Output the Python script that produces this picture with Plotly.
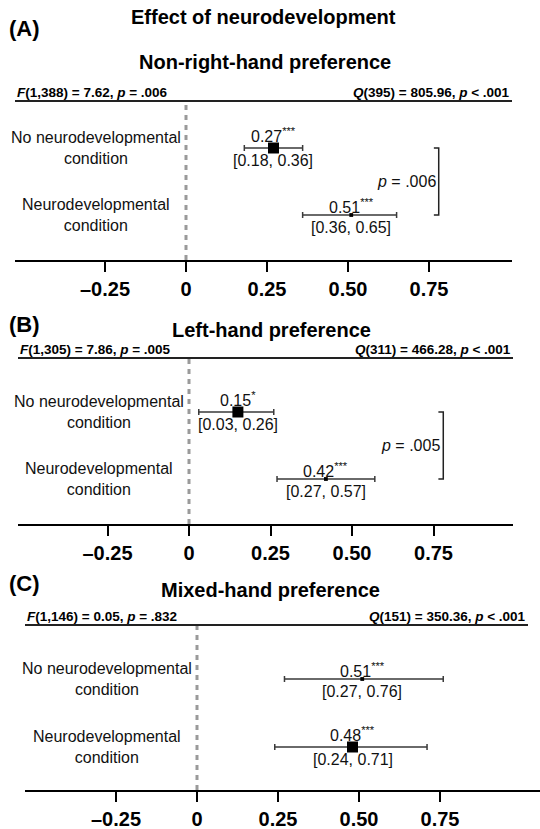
import plotly.graph_objects as go

# ---------------- data ----------------
panel_letters = ["(A)", "(B)", "(C)"]
panel_titles = ["Non-right-hand preference", "Left-hand preference", "Mixed-hand preference"]
main_title = "Effect of neurodevelopment"
categories = ["No neurodevelopmental<br>condition", "Neurodevelopmental<br>condition"]

est_A = [0.27, 0.51]
lo_A = [0.18, 0.36]
hi_A = [0.36, 0.65]
sig_A = ["***", "***"]
weight_A = [1.0, 0.1]

est_B = [0.15, 0.42]
lo_B = [0.03, 0.27]
hi_B = [0.26, 0.57]
sig_B = ["*", "***"]
weight_B = [1.0, 0.1]

est_C = [0.51, 0.48]
lo_C = [0.27, 0.24]
hi_C = [0.76, 0.71]
sig_C = ["***", "***"]
weight_C = [0.1, 1.0]

stats_left = ["<i>F</i>(1,388) = 7.62, <i>p</i> = .006",
              "<i>F</i>(1,305) = 7.86, <i>p</i> = .005",
              "<i>F</i>(1,146) = 0.05, <i>p</i> = .832"]
stats_right = ["<i>Q</i>(395) = 805.96, <i>p</i> &lt; .001",
               "<i>Q</i>(311) = 466.28, <i>p</i> &lt; .001",
               "<i>Q</i>(151) = 350.36, <i>p</i> &lt; .001"]
p_diff = [".006", ".005", None]

tick_vals = [-0.25, 0, 0.25, 0.50, 0.75]
tick_text = ["\u20130.25", "0", "0.25", "0.50", "0.75"]

# ---------------- layout geometry (pixels) ----------------
W, H = 540, 829
FONT = "Liberation Sans, Arial, sans-serif"
geom = [
    dict(xl=15, xr=512, x0=186, s=324, top=101, bot=260, r1=148, r2=215, topr=512),
    dict(xl=18, xr=513, x0=189, s=326, top=358, bot=524, r1=412, r2=479, topr=513),
    dict(xl=25, xr=540, x0=197, s=324, top=625, bot=790, r1=679, r2=747, topr=528),
]
bracket_x = 0.78

panels = [
    (est_A, lo_A, hi_A, sig_A, weight_A),
    (est_B, lo_B, hi_B, sig_B, weight_B),
    (est_C, lo_C, hi_C, sig_C, weight_C),
]

fig = go.Figure()
annotations = []
shapes = []
layout_axes = {}

for i, (est, lo, hi, sig, wt) in enumerate(panels):
    g = geom[i]
    n = "" if i == 0 else str(i + 1)
    xa, ya = "x" + n, "y" + n
    rows = list(range(len(categories)))
    sizes = [3 + 8 * w for w in wt]

    # confidence intervals
    fig.add_trace(go.Scatter(
        x=est, y=rows, xaxis=xa, yaxis=ya, mode="markers",
        marker=dict(size=1, color="rgba(0,0,0,0)"),
        error_x=dict(type="data", symmetric=False,
                     array=[h - e for h, e in zip(hi, est)],
                     arrayminus=[e - l for e, l in zip(est, lo)],
                     color="#3a3a3a", thickness=1.5, width=3),
        showlegend=False, hoverinfo="skip",
    ))
    # point estimates (weighted squares)
    fig.add_trace(go.Scatter(
        x=est, y=rows, xaxis=xa, yaxis=ya, mode="markers",
        marker=dict(symbol="square", size=sizes, color="black", opacity=1,
                    line=dict(width=0)),
        showlegend=False, hoverinfo="skip",
    ))

    d = g["r2"] - g["r1"]
    yrange = [1 + (g["bot"] - g["r2"]) / d, -(g["r1"] - g["top"]) / d]
    xrange = [(g["xl"] - g["x0"]) / g["s"], (g["xr"] - g["x0"]) / g["s"]]

    layout_axes["xaxis" + n] = dict(
        domain=[g["xl"] / W, g["xr"] / W], range=xrange, anchor=ya,
        tickvals=tick_vals, ticktext=["<b>%s</b>" % t for t in tick_text],
        ticks="outside", ticklen=10, tickwidth=2, tickcolor="black",
        showline=True, linecolor="black", linewidth=2,
        showgrid=False, zeroline=False,
        tickfont=dict(size=20, family=FONT, color="black"),
    )
    layout_axes["yaxis" + n] = dict(
        domain=[1 - g["bot"] / H, 1 - g["top"] / H], range=yrange, anchor=xa,
        visible=False,
    )

    # dashed zero line
    shapes.append(dict(type="line", xref=xa, x0=0, x1=0, yref=ya + " domain", y0=0, y1=1,
                       line=dict(color="#9a9a9a", width=3, dash="5px,5px"), layer="below"))
    # top rule
    shapes.append(dict(type="line", xref=xa + " domain", x0=0,
                       x1=(g["topr"] - g["xl"]) / (g["xr"] - g["xl"]),
                       yref=ya + " domain", y0=1, y1=1,
                       line=dict(color="#222222", width=2)))

    # stats texts
    annotations.append(dict(xref=xa + " domain", yref=ya + " domain", x=0, y=1,
                            xanchor="left", yanchor="middle", yshift=9, showarrow=False,
                            text="<b>%s</b>" % stats_left[i],
                            font=dict(size=13.5, family=FONT, color="black")))
    annotations.append(dict(xref=xa + " domain", yref=ya + " domain",
                            x=(g["topr"] - g["xl"]) / (g["xr"] - g["xl"]), y=1,
                            xanchor="right", yanchor="middle", yshift=9, showarrow=False,
                            text="<b>%s</b>" % stats_right[i],
                            font=dict(size=13.5, family=FONT, color="black")))

    # category labels
    for r, cat in zip(rows, categories):
        annotations.append(dict(xref=xa, yref=ya, x=0, y=r, xanchor="center", xshift=-90,
                                yanchor="middle", align="center", showarrow=False, text=cat,
                                font=dict(size=16, family=FONT, color="#111111")))

    # estimate and CI labels
    for r, e, l, h, s, w in zip(rows, est, lo, hi, sig, wt):
        annotations.append(dict(xref=xa, yref=ya, x=e, y=r, xanchor="center", yanchor="middle",
                                yshift=9 + 4 * w, showarrow=False,
                                text="%.2f<sup>%s</sup>" % (e, s),
                                font=dict(size=16, family=FONT, color="#111111")))
        annotations.append(dict(xref=xa, yref=ya, x=e, y=r, xanchor="center", yanchor="middle",
                                yshift=-12, showarrow=False,
                                text="[%.2f, %.2f]" % (l, h),
                                font=dict(size=16, family=FONT, color="#111111")))

    # comparison bracket
    if p_diff[i] is not None:
        tk = 0.015
        shapes.append(dict(type="path", xref=xa, yref=ya,
                           path="M %f,%f L %f,%f L %f,%f L %f,%f" % (
                               bracket_x - tk, rows[0], bracket_x, rows[0],
                               bracket_x, rows[1], bracket_x - tk, rows[1]),
                           line=dict(color="#222222", width=1.5)))
        annotations.append(dict(xref=xa, yref=ya, x=bracket_x, y=(rows[0] + rows[1]) / 2,
                                xanchor="right", yanchor="middle", xshift=-1, showarrow=False,
                                text="<i>p</i> = %s" % p_diff[i],
                                font=dict(size=16, family=FONT, color="#111111")))

    # panel letter and title
    letter_y = [29, 324, 583][i]
    title_y = [62, 330, 590][i]
    title_x = [265, 271, 270][i]
    annotations.append(dict(xref="paper", yref="paper", x=7 / W, y=1 - letter_y / H,
                            xanchor="left", yanchor="middle", showarrow=False,
                            text="<b>%s</b>" % panel_letters[i],
                            font=dict(size=22, family=FONT, color="black")))
    annotations.append(dict(xref="paper", yref="paper", x=title_x / W, y=1 - title_y / H,
                            xanchor="center", yanchor="middle", showarrow=False,
                            text="<b>%s</b>" % panel_titles[i],
                            font=dict(size=20, family=FONT, color="black")))

annotations.append(dict(xref="paper", yref="paper", x=263 / W, y=1 - 17 / H,
                        xanchor="center", yanchor="middle", showarrow=False,
                        text="<b>%s</b>" % main_title,
                        font=dict(size=20, family=FONT, color="black")))

fig.update_layout(
    width=W, height=H, margin=dict(l=0, r=0, t=0, b=0),
    paper_bgcolor="white", plot_bgcolor="white",
    font=dict(family=FONT, color="black"),
    annotations=annotations, shapes=shapes, showlegend=False,
    **layout_axes,
)

fig.write_html("out.html")
